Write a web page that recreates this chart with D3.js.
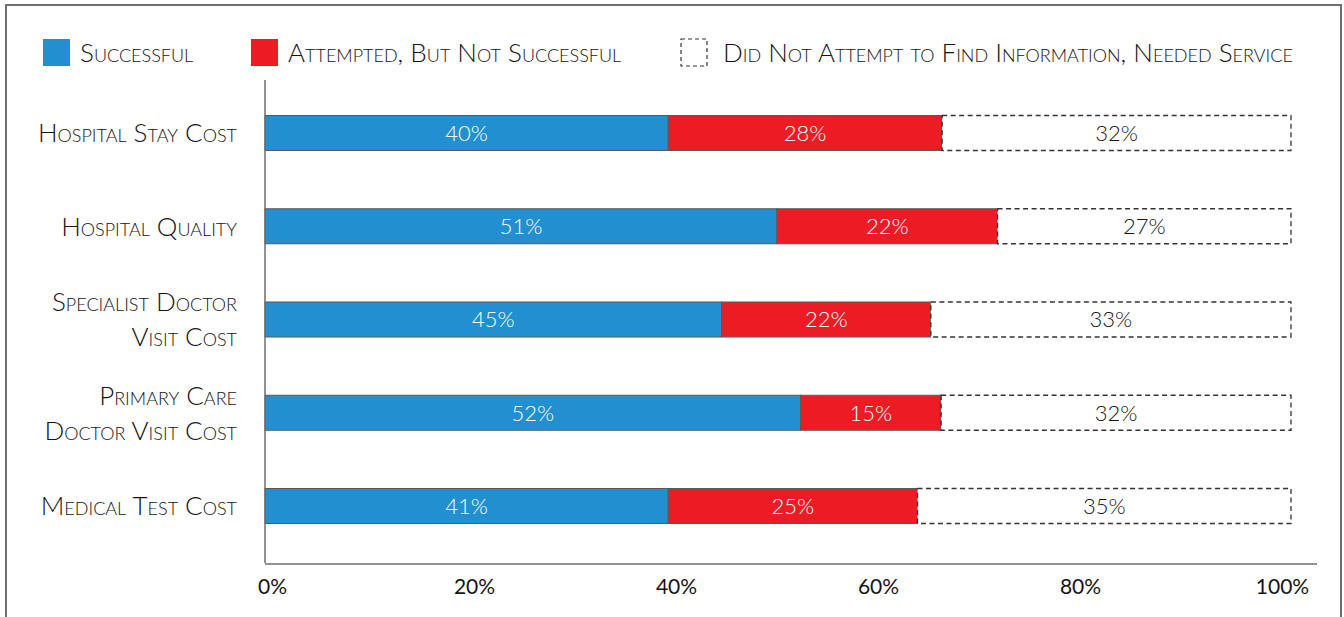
<!DOCTYPE html>
<html>
<head>
<meta charset="utf-8">
<script src="https://cdn.jsdelivr.net/npm/d3@7"></script>
<style>
  body { margin: 0; background: #fff; }
  svg { display: block; font-family: "Lato", sans-serif; }
  .sc { font-variant: small-caps; }
</style>
</head>
<body>
<div id="chart"></div>
<script>
// Categories, top to bottom (label lines)
const categories = ["Hospital Stay Cost", "Hospital Quality", "Specialist Doctor Visit Cost",
    "Primary Care Doctor Visit Cost", "Medical Test Cost"];
const categoryLines = [["Hospital Stay Cost"], ["Hospital Quality"], ["Specialist Doctor", "Visit Cost"],
    ["Primary Care", "Doctor Visit Cost"], ["Medical Test Cost"]];

// Segment lengths as drawn (share of bar, %)
const successful = [39.3, 49.9, 44.5, 52.2, 39.3];
const attempted = [26.7, 21.5, 20.4, 13.7, 24.3];
const didNotAttempt = [34.0, 28.6, 35.1, 34.1, 36.4];

// Printed percentages
const successfulLabels = ["40%", "51%", "45%", "52%", "41%"];
const attemptedLabels = ["28%", "22%", "22%", "15%", "25%"];
const didNotAttemptLabels = ["32%", "27%", "33%", "32%", "35%"];

const seriesNames = ["Successful", "Attempted, But Not Successful", "Did Not Attempt to Find Information, Needed Service"];
const tickValues = [0, 20, 40, 60, 80, 100];

const W = 1344, H = 617;
const svg = d3.select("#chart").append("svg").attr("width", W).attr("height", H);

// outer frame
svg.append("rect")
    .attr("x", 6).attr("y", 5).attr("width", 1335).attr("height", 700)
    .attr("fill", "none").attr("stroke", "#6d6e71").attr("stroke-width", 2);

const x = d3.scaleLinear().domain([0, 100]).range([265, 1291]);
const xLabels = d3.scaleLinear().domain([0, 100]).range([272, 1282]);
const y = d3.scalePoint().domain(categories).range([133, 506]);
const barH = 35;

const rows = categories.map((c, i) => {
    const vals = [successful[i], attempted[i], didNotAttempt[i]];
    const labs = [successfulLabels[i], attemptedLabels[i], didNotAttemptLabels[i]];
    let acc = 0;
    return vals.map((v, k) => {
        const seg = { cat: c, k, x0: acc, x1: acc + v, label: labs[k] };
        acc += v;
        return seg;
    });
}).flat();

const fills = ["#2290d0", "#ed1c24", "#ffffff"];
const ink = "#161415";

// bars
svg.selectAll(".seg")
    .data(rows)
    .join("rect")
    .attr("class", "seg")
    .attr("x", d => x(d.x0))
    .attr("y", d => y(d.cat) - barH / 2)
    .attr("width", d => x(d.x1) - x(d.x0))
    .attr("height", barH)
    .attr("fill", d => fills[d.k])
    .attr("stroke", d => d.k === 2 ? "#333" : "#58595b")
    .attr("stroke-width", d => d.k === 2 ? 1.3 : 1)
    .attr("stroke-dasharray", d => d.k === 2 ? "5,3.5" : null);

svg.selectAll(".seg-label")
    .data(rows)
    .join("text")
    .attr("class", "seg-label")
    .attr("x", d => (x(d.x0) + x(d.x1)) / 2)
    .attr("y", d => y(d.cat))
    .attr("dy", "0.36em")
    .attr("text-anchor", "middle")
    .attr("font-size", 22)
    .attr("font-weight", 300)
    .attr("fill", d => d.k === 2 ? ink : "#fff")
    .text(d => d.label);

// axis lines
svg.append("line")
    .attr("x1", x(0)).attr("x2", x(0)).attr("y1", 80).attr("y2", 563)
    .attr("stroke", "#6d6e71").attr("stroke-width", 1.5);
svg.append("line")
    .attr("x1", x(0)).attr("x2", 1317).attr("y1", 564).attr("y2", 564)
    .attr("stroke", "#6d6e71").attr("stroke-width", 1.5);

// x tick labels
const xAxisG = svg.append("g")
    .attr("transform", "translate(0,576)")
    .call(d3.axisBottom(xLabels).tickValues(tickValues).tickSize(0).tickFormat(d => d + "%"));
xAxisG.select(".domain").remove();
xAxisG.selectAll("text")
    .attr("font-family", "Lato, sans-serif")
    .attr("font-size", 21)
    .attr("fill", ink);

// category labels
const catG = svg.selectAll(".cat")
    .data(categories)
    .join("text")
    .attr("class", "cat sc")
    .attr("x", 237)
    .attr("text-anchor", "end")
    .attr("font-size", 26)
    .attr("font-weight", 300)
    .attr("fill", ink);
catG.each(function (c, i) {
    const lines = categoryLines[i];
    const lh = 35;
    const top = y(c) - (lines.length - 1) * lh / 2;
    d3.select(this).selectAll("tspan")
        .data(lines)
        .join("tspan")
        .attr("x", 237)
        .attr("y", (l, j) => top + j * lh)
        .attr("dy", "0.36em")
        .text(l => l);
});

// legend
const legendX = [43, 251, 681];
const legend = svg.selectAll(".legend")
    .data(seriesNames)
    .join("g")
    .attr("class", "legend")
    .attr("transform", (d, i) => `translate(${legendX[i]},39)`);
legend.append("rect")
    .attr("width", (d, i) => i === 2 ? 26 : 27)
    .attr("height", 27)
    .attr("fill", (d, i) => fills[i])
    .attr("stroke", (d, i) => i === 2 ? "#333" : "none")
    .attr("stroke-width", 1.2)
    .attr("stroke-dasharray", (d, i) => i === 2 ? "4,3" : null);
legend.append("text")
    .attr("class", "sc")
    .attr("x", (d, i) => i === 2 ? 42 : 37)
    .attr("y", 13.5)
    .attr("dy", "0.36em")
    .attr("font-size", 26)
    .attr("font-weight", 300)
    .attr("fill", ink)
    .text(d => d);
</script>
</body>
</html>
